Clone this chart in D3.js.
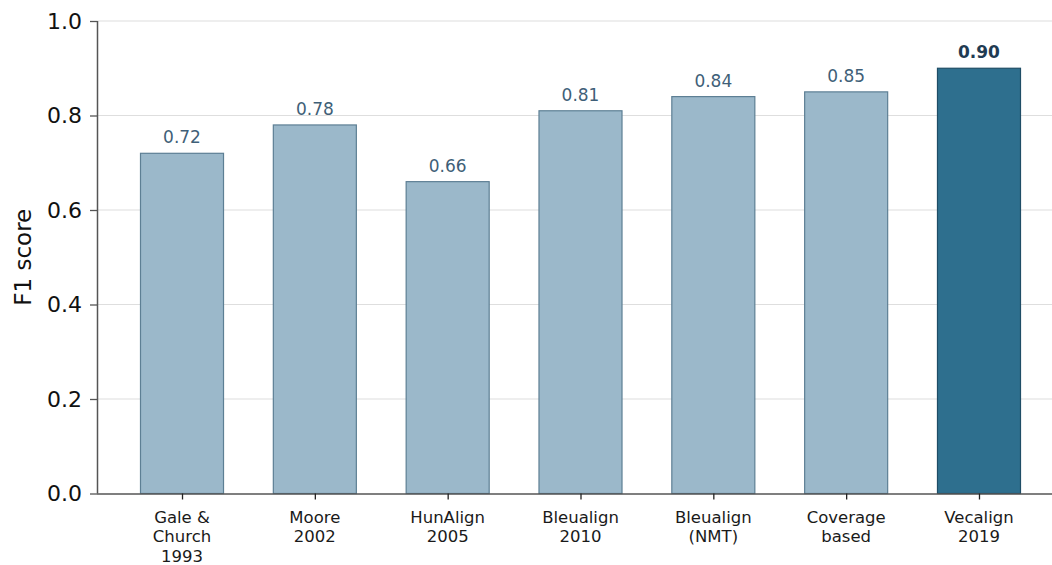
<!DOCTYPE html>
<html>
<head>
<meta charset="utf-8">
<script src="https://cdn.jsdelivr.net/npm/d3@7"></script>
<style>
  html, body { margin: 0; padding: 0; background: #fff; }
  svg { display: block; font-family: "DejaVu Sans", sans-serif; }
</style>
</head>
<body>
<svg id="chart" width="1052" height="565"></svg>
<script>
// Sentence-alignment methods and their F1 scores
const methods = [
  ["Gale &", "Church", "1993"],
  ["Moore", "2002"],
  ["HunAlign", "2005"],
  ["Bleualign", "2010"],
  ["Bleualign", "(NMT)"],
  ["Coverage", "based"],
  ["Vecalign", "2019"]
];
const f1Scores = [0.72, 0.78, 0.66, 0.81, 0.84, 0.85, 0.90];
const highlightIndex = 6;
const yTicks = [0.0, 0.2, 0.4, 0.6, 0.8, 1.0];

const svg = d3.select("#chart");
const plot = { left: 97, top: 21, bottom: 493.5, right: 1064 };

const x = d3.scaleLinear().domain([-0.64, methods.length - 1 + 0.64]).range([plot.left, plot.right]);
const y = d3.scaleLinear().domain([0, 1]).range([plot.bottom, plot.top]);
const barW = 0.625;

// Horizontal gridlines
svg.append("g")
  .selectAll("line")
  .data(yTicks.filter(t => t > 0))
  .join("line")
  .attr("x1", plot.left).attr("x2", 1052)
  .attr("y1", d => y(d)).attr("y2", d => y(d))
  .attr("stroke", "#dedede").attr("stroke-width", 1.2);

// Bars
svg.append("g")
  .selectAll("rect")
  .data(f1Scores)
  .join("rect")
  .attr("x", (d, i) => x(i - barW / 2))
  .attr("width", x(barW) - x(0))
  .attr("y", d => y(d))
  .attr("height", d => y(0) - y(d))
  .attr("fill", (d, i) => i === highlightIndex ? "#2e6f8e" : "#9bb8ca")
  .attr("stroke", (d, i) => i === highlightIndex ? "#1f4d66" : "#5d7f94")
  .attr("stroke-width", 1.2);

// Value labels above bars
svg.append("g")
  .selectAll("text")
  .data(f1Scores)
  .join("text")
  .attr("x", (d, i) => x(i))
  .attr("y", d => y(d) - 10)
  .attr("text-anchor", "middle")
  .attr("font-size", 17)
  .attr("font-weight", (d, i) => i === highlightIndex ? "bold" : "normal")
  .attr("fill", (d, i) => i === highlightIndex ? "#1f3b52" : "#3f5f78")
  .text(d => d.toFixed(2));

// Y axis
const yAxis = svg.append("g")
  .attr("transform", `translate(${plot.left},0)`)
  .call(d3.axisLeft(y).tickValues(yTicks).tickFormat(d3.format(".1f")).tickSize(7).tickPadding(8));
yAxis.select(".domain").attr("stroke", "#555").attr("stroke-width", 1.5).attr("d", `M0.5,${plot.top}V${plot.bottom}`);
yAxis.selectAll(".tick line").attr("stroke", "#555").attr("stroke-width", 1.3);
yAxis.selectAll(".tick text").attr("font-size", 22).attr("fill", "#111").attr("font-family", "DejaVu Sans, sans-serif");

// X axis
const xAxis = svg.append("g")
  .attr("transform", `translate(0,${plot.bottom})`)
  .call(d3.axisBottom(x).tickValues(d3.range(methods.length)).tickFormat("").tickSize(6));
xAxis.select(".domain").attr("stroke", "#555").attr("stroke-width", 1.5).attr("d", `M${plot.left},0.5H1052`);
xAxis.selectAll(".tick line").attr("stroke", "#222").attr("stroke-width", 1.3);

// Multi-line category labels
const cat = svg.append("g")
  .selectAll("text")
  .data(methods)
  .join("text")
  .attr("x", (d, i) => x(i))
  .attr("y", plot.bottom + 29)
  .attr("text-anchor", "middle")
  .attr("font-size", 16.5)
  .attr("fill", "#1a1a1a");
cat.selectAll("tspan")
  .data(d => d)
  .join("tspan")
  .attr("x", function () { return d3.select(this.parentNode).attr("x"); })
  .attr("dy", (d, i) => i === 0 ? 0 : 19.5)
  .text(d => d);

// Y axis title
svg.append("text")
  .attr("transform", `translate(31,${(plot.top + plot.bottom) / 2}) rotate(-90)`)
  .attr("text-anchor", "middle")
  .attr("font-size", 23)
  .attr("fill", "#111")
  .text("F1 score");
</script>
</body>
</html>
